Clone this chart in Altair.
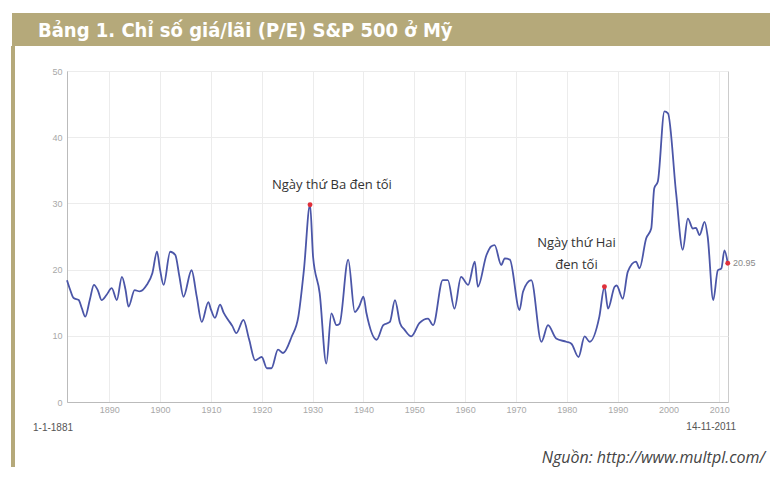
import altair as alt
import pandas as pd

# P/E series (fractional year, value)
years = [1881.7, 1882.3, 1883.0, 1884.0, 1884.6, 1885.3, 1886.2, 1887.0, 1887.8, 1888.5,
         1889.5, 1890.5, 1891.5, 1892.5, 1893.2, 1893.8, 1895.0, 1896.0, 1897.4, 1898.5,
         1899.4, 1900.0, 1900.7, 1902.0, 1903.0, 1903.8, 1904.6, 1906.2, 1907.2, 1908.2,
         1909.5, 1910.0, 1910.8, 1911.8, 1912.5, 1913.4, 1914.2, 1915.0, 1916.4, 1917.5,
         1918.7, 1920.0, 1921.0, 1921.9, 1923.2, 1924.2, 1925.9, 1927.2, 1928.3, 1929.5,
         1930.1, 1931.4, 1932.7, 1933.7, 1934.7, 1935.3, 1937.0, 1938.3, 1939.2, 1940.0,
         1940.6, 1942.6, 1943.9, 1945.2, 1946.2, 1947.2, 1948.1, 1949.4, 1951.0, 1952.7,
         1953.7, 1955.6, 1956.6, 1957.9, 1959.2, 1960.6, 1961.9, 1962.5, 1964.2, 1965.1,
         1965.8, 1967.1, 1967.8, 1968.8, 1970.7, 1971.4, 1973.0, 1975.0, 1976.3, 1977.9,
         1979.9, 1980.9, 1982.3, 1983.5, 1984.5, 1986.4, 1987.4, 1988.1, 1989.4, 1989.8,
         1991.0, 1992.0, 1993.6, 1994.3, 1995.6, 1996.6, 1997.2, 1997.9, 1999.2, 1999.9,
         2001.5, 2002.8, 2003.8, 2004.8, 2005.4, 2006.1, 2007.1, 2007.7, 2008.8, 2009.7,
         2010.4, 2011.0, 2011.65]
pe = [18.4, 17.0, 15.7, 15.4, 14.2, 12.9, 15.5, 17.7, 16.8, 15.4,
      16.2, 17.2, 15.4, 18.9, 17.0, 14.4, 16.9, 16.7, 17.7, 19.5,
      22.7, 20.0, 17.7, 22.7, 22.2, 19.0, 15.9, 19.9, 16.0, 12.1,
      15.1, 14.0, 12.7, 14.7, 13.5, 12.4, 11.5, 10.4, 12.4, 9.5,
      6.3, 6.8, 5.1, 5.1, 7.9, 7.4, 9.9, 12.9, 20.0, 29.8,
      21.9, 16.4, 5.8, 13.4, 11.6, 11.8, 21.5, 13.6, 14.5, 15.9,
      13.4, 9.4, 11.6, 12.1, 15.4, 11.9, 10.9, 9.9, 11.9, 12.6,
      11.6, 18.4, 18.4, 14.1, 18.9, 17.7, 21.2, 17.4, 22.2, 23.5,
      23.7, 20.7, 21.7, 21.5, 13.9, 16.7, 18.4, 9.1, 11.6, 9.6,
      9.1, 8.8, 6.8, 9.9, 9.1, 12.9, 17.4, 14.1, 17.4, 17.6,
      15.6, 19.7, 21.2, 20.2, 24.7, 26.2, 32.3, 33.3, 43.9, 43.6,
      31.5, 23.0, 27.7, 26.2, 26.3, 25.2, 27.2, 25.0, 15.4, 19.9,
      20.2, 22.9, 20.95]

# highlighted events
event_years = [1929.5, 1987.4, 2011.65]
event_values = [29.8, 17.4, 20.95]

x_ticks = [1890, 1900, 1910, 1920, 1930, 1940, 1950, 1960, 1970, 1980, 1990, 2000, 2010]
y_ticks = [0, 5, 10, 15, 20, 25, 30, 35, 40, 45, 50]

title_text = "Bảng 1. Chỉ số giá/lãi (P/E) S&P 500 ở Mỹ"
source_text = "Nguồn: http://www.multpl.com/"
start_label = "1-1-1881"
end_label = "14-11-2011"
end_value_label = "20.95"

ann_text = ["Ngày thứ Ba đen tối", "Ngày thứ Hai", "đen tối"]
ann_x = [1933.8, 1981.9, 1981.9]
ann_y = [32.8, 24.0, 20.7]

series = pd.DataFrame({"year": years, "pe": pe})
events = pd.DataFrame({"year": event_years, "pe": event_values})
anns = pd.DataFrame({"year": ann_x, "pe": ann_y, "t": ann_text})
one = pd.DataFrame({"a": [0]})

xscale = alt.Scale(domain=[1881.7, 2011.7], nice=False, zero=False)
yscale = alt.Scale(domain=[0, 50], nice=False)

base = alt.Chart(series)

line = base.mark_line(color="#4b56a8", strokeWidth=1.8, interpolate="monotone").encode(
    x=alt.X("year:Q", scale=xscale,
            axis=alt.Axis(values=x_ticks, format="d", title=None, grid=True,
                          gridColor="#ececec", labelColor="#a8a8a8", labelFontSize=9,
                          labelFont="Liberation Sans", ticks=False, labelPadding=3,
                          domainColor="#bbbbbb")),
    y=alt.Y("pe:Q", scale=yscale,
            axis=alt.Axis(values=y_ticks, title=None, grid=True, gridColor="#ececec",
                          labelColor="#a8a8a8", labelFontSize=9, labelFont="Liberation Sans",
                          ticks=False, labelPadding=5, domainColor="#bbbbbb")),
)

dots = alt.Chart(events).mark_circle(color="#e0303a", size=24, opacity=1).encode(
    x=alt.X("year:Q", scale=xscale), y=alt.Y("pe:Q", scale=yscale))

ann = alt.Chart(anns).mark_text(fontSize=13, color="#333333", font="Open Sans",
                                align="center", baseline="middle").encode(
    x=alt.X("year:Q", scale=xscale), y=alt.Y("pe:Q", scale=yscale), text="t:N")

def txt(text, x, y, **kw):
    return alt.Chart(one).mark_text(text=text, **kw).encode(x=alt.value(x), y=alt.value(y))

title_bar = alt.Chart(one).mark_rect(color="#b5a97a").encode(
    x=alt.value(-55), x2=alt.value(703), y=alt.value(-58), y2=alt.value(-25))
left_bar = alt.Chart(one).mark_rect(color="#b5a97a").encode(
    x=alt.value(-56), x2=alt.value(-52), y=alt.value(-25), y2=alt.value(396))

title = txt(title_text, -29, -34, font="'DejaVu Sans Condensed', 'Roboto Condensed', Roboto",
            fontSize=20, fontWeight="bold", color="white", align="left", baseline="alphabetic")
source = txt(source_text, 698, 387, font="Open Sans", fontSize=16, fontStyle="italic",
             color="#444444", align="right", baseline="middle")
start = txt(start_label, -34, 357, font="Liberation Sans", fontSize=10, color="#555555",
            align="left", baseline="middle")
end = txt(end_label, 669, 356, font="Liberation Sans", fontSize=10, color="#555555",
          align="right", baseline="middle")
endv = txt(end_value_label, 666, 192, font="Liberation Sans", fontSize=9, color="#888888",
           align="left", baseline="middle")

chart = alt.layer(title_bar, left_bar, line, dots, ann, title, source, start, end, endv).properties(
    width=661, height=331,
    padding={"left": 59, "top": 63, "right": 42, "bottom": 66},
    autosize=alt.AutoSizeParams(type="none"),
    background="white",
).configure_view(stroke="#cccccc")

chart.save("out.html", embed_options={"renderer": "svg", "actions": False})
